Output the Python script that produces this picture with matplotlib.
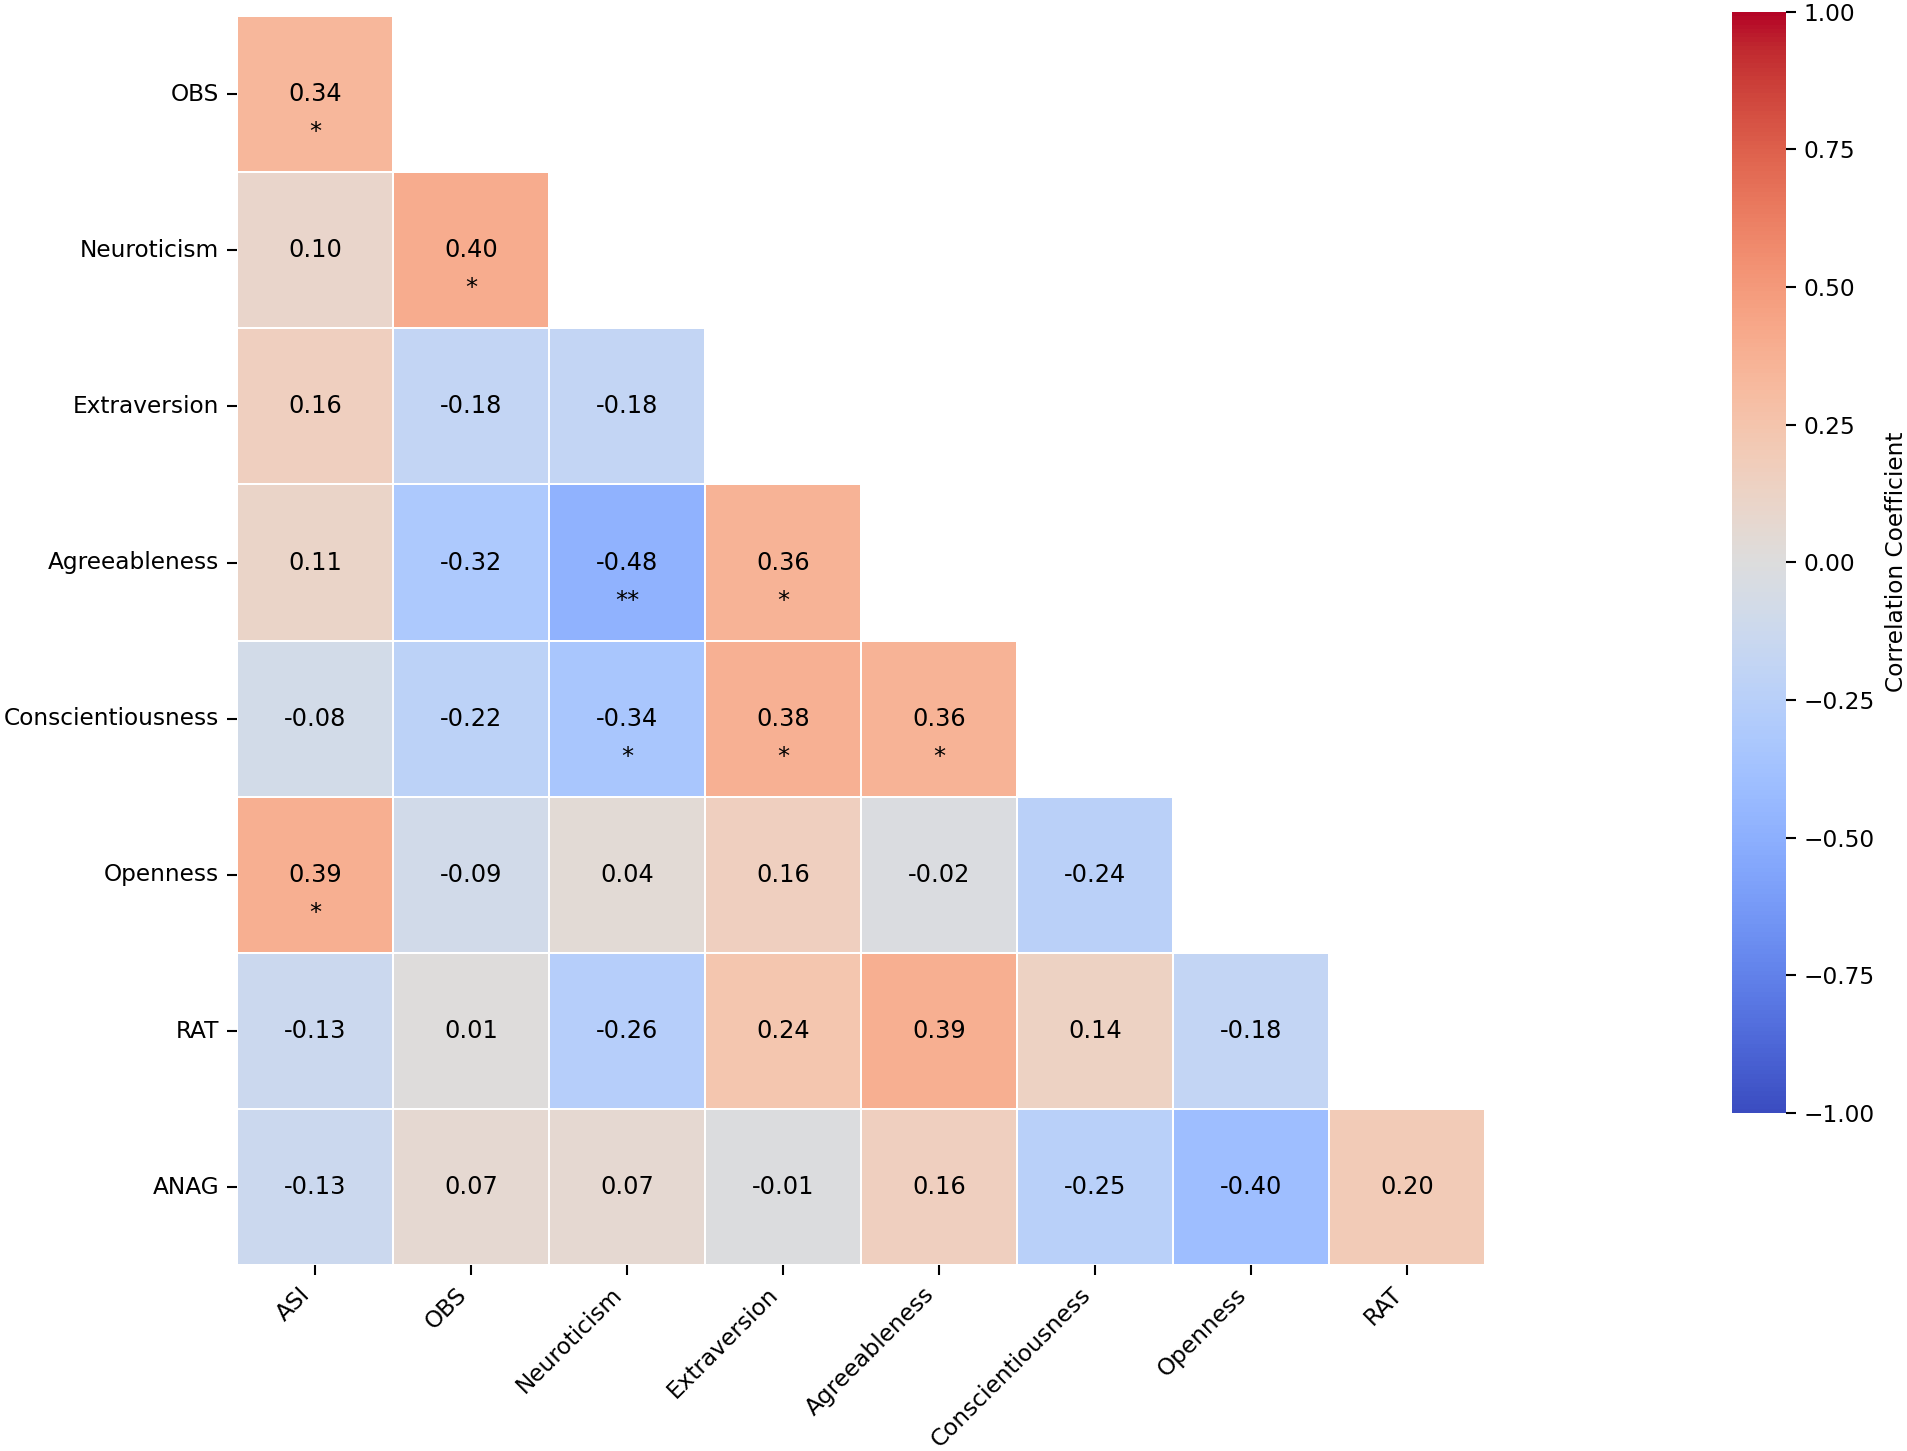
import numpy as np
import matplotlib
matplotlib.use("Agg")
import matplotlib.pyplot as plt
import seaborn as sns

row_labels = ["OBS", "Neuroticism", "Extraversion", "Agreeableness",
              "Conscientiousness", "Openness", "RAT", "ANAG"]
col_labels = ["ASI", "OBS", "Neuroticism", "Extraversion", "Agreeableness",
              "Conscientiousness", "Openness", "RAT"]

r_obs = [0.34]
r_neu = [0.10, 0.40]
r_ext = [0.16, -0.18, -0.18]
r_agr = [0.11, -0.32, -0.48, 0.36]
r_con = [-0.08, -0.22, -0.34, 0.38, 0.36]
r_ope = [0.39, -0.09, 0.04, 0.16, -0.02, -0.24]
r_rat = [-0.13, 0.01, -0.26, 0.24, 0.39, 0.14, -0.18]
r_ana = [-0.13, 0.07, 0.07, -0.01, 0.16, -0.25, -0.40, 0.20]

s_obs = ["*"]
s_neu = ["", "*"]
s_ext = ["", "", ""]
s_agr = ["", "", "**", "*"]
s_con = ["", "", "*", "*", "*"]
s_ope = ["*", "", "", "", "", ""]
s_rat = ["", "", "", "", "", "", ""]
s_ana = ["", "", "", "", "", "", "", ""]

rows = [r_obs, r_neu, r_ext, r_agr, r_con, r_ope, r_rat, r_ana]
stars = [s_obs, s_neu, s_ext, s_agr, s_con, s_ope, s_rat, s_ana]
n = len(row_labels)
M = np.full((n, n), np.nan)
for i, r in enumerate(rows):
    M[i, :len(r)] = r
mask = np.isnan(M)

FS = 11.2
plt.rcParams['font.family'] = ['DejaVu Sans']
fig = plt.figure(figsize=(1907/150, 1451/150), dpi=150)
ax = fig.add_axes([0.1243, 0.128, 0.6545, 0.861])
cax = fig.add_axes([0.9082, 0.233, 0.0283, 0.759])

sns.heatmap(M, mask=mask, cmap="coolwarm", vmin=-1, vmax=1, center=0,
            linewidths=0.8, linecolor="white", ax=ax, cbar_ax=cax,
            xticklabels=col_labels, yticklabels=row_labels,
            cbar_kws={"ticks": np.arange(-1, 1.01, 0.25)})
for i, r in enumerate(rows):
    for j, v in enumerate(r):
        ax.text(j + 0.5, i + 0.5, f"{v:.2f}", ha="center", va="center",
                fontsize=11.5, color="black")
        if stars[i][j]:
            ax.text(j + 0.5, i + 0.745, stars[i][j], ha="center", va="center",
                    fontsize=11.5, color="black")

ax.set_xticklabels(col_labels, rotation=45, ha="right", fontsize=FS)
ax.set_yticklabels(row_labels, rotation=0, fontsize=FS)
ax.tick_params(length=5, width=1, pad=3.5)
cax.yaxis.set_major_formatter(matplotlib.ticker.FuncFormatter(
    lambda v, p: f"{v:.2f}".replace("-", "\u2212")))
cax.tick_params(labelsize=FS, length=5, width=1)
cax.set_ylabel("Correlation Coefficient", fontsize=FS, labelpad=5)

fig.savefig("out.png", dpi=150)
